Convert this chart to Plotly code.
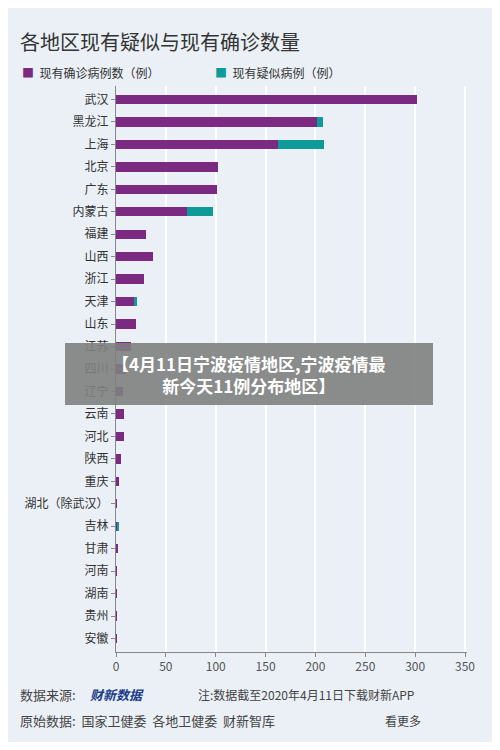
import plotly.graph_objects as go

regions = ["武汉","黑龙江","上海","北京","广东","内蒙古","福建","山西","浙江","天津","山东","江苏","四川","辽宁","云南","河北","陕西","重庆","湖北（除武汉）","吉林","甘肃","河南","湖南","贵州","安徽"]
confirmed = [302,202,162,102,101,71,30,37,28,19,20,15,10,7,8,8,5,3,1,2,2,1,1,1,1]
suspected = [0,6,47,0,0,26,0,0,0,2,0,0,0,0,0,0,0,0,0,1,0,0,0,0,0]
x_ticks = [0,50,100,150,200,250,300,350]

OFF = 8
W, H = 484, 734
L, R, T, B = 116 - OFF, 25, 86 - OFF, 90
PW, PH = W - L - R, H - T - B
def px(x): return (x - OFF - L) / PW
def py(y): return 1 - (y - OFF - T) / PH

fig = go.Figure()
fig.add_bar(y=regions, x=confirmed, orientation="h", name="现有确诊病例数（例）",
            marker=dict(color="#7b2a82", line=dict(width=0)), width=0.42)
fig.add_bar(y=regions, x=suspected, orientation="h", name="现有疑似病例（例）",
            marker=dict(color="#0e9a98", line=dict(width=0)), width=0.42)

font = "Noto Sans CJK SC"
fig.update_layout(
    barmode="stack", width=W, height=H,
    paper_bgcolor="#eaf0f5", plot_bgcolor="#eaf0f5",
    margin=dict(l=L, r=R, t=T, b=B),
    font=dict(family=font, color="#333", size=12),
    showlegend=False,
    xaxis=dict(range=[0,352], tickvals=x_ticks, showgrid=True, gridcolor="#ffffff", gridwidth=2,
               zeroline=False, showline=True, linecolor="#888", ticks="outside", ticklen=4,
               tickcolor="#888", tickfont=dict(size=12, color="#555")),
    yaxis=dict(autorange=False, range=[24.6,-0.6], showline=True, linecolor="#888", ticks="outside",
               ticklen=4, tickcolor="#888", tickfont=dict(size=12, color="#333")),
)
ann = [
    dict(text="各地区现有疑似与现有确诊数量", x=18, y=42, font=dict(size=20, color="#333")),
    dict(text="<span style='color:#7b2a82'>■</span>  现有确诊病例数（例）", x=20, y=72, font=dict(size=12)),
    dict(text="<span style='color:#0e9a98'>■</span>  现有疑似病例（例）", x=213, y=72, font=dict(size=12)),
    dict(text="数据来源:", x=18, y=694, font=dict(size=13, color="#444")),
    dict(text="<b><i>财新数据</i></b>", x=88, y=694, font=dict(size=13, color="#1a3a8a")),
    dict(text="注:数据截至2020年4月11日下载财新APP", x=196, y=694, font=dict(size=12, color="#444")),
    dict(text="原始数据:  国家卫健委  各地卫健委  财新智库", x=18, y=720, font=dict(size=13, color="#444")),
    dict(text="看更多", x=383, y=720, font=dict(size=12, color="#444")),
]
for a in ann:
    fig.add_annotation(xref="paper", yref="paper", x=px(a["x"]), y=py(a["y"]),
                       xanchor="left", yanchor="middle", showarrow=False, text=a["text"], font=a["font"])
fig.add_shape(type="rect", xref="paper", yref="paper", x0=px(65), x1=px(433),
              y0=py(405), y1=py(343), fillcolor="rgba(128,128,128,0.9)", line=dict(width=0))
fig.add_annotation(xref="paper", yref="paper", x=px(249), y=py(374), showarrow=False,
                   text="<b>【4月11日宁波疫情地区,宁波疫情最<br>新今天11例分布地区】</b>",
                   font=dict(size=17, color="white"), align="center")
fig.write_html("out.html")
